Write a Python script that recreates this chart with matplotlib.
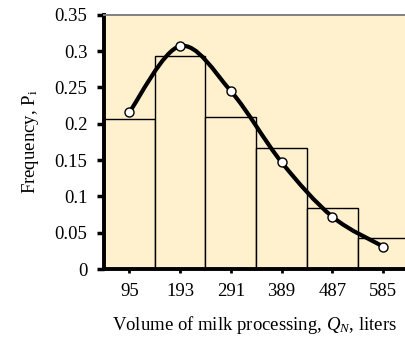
import numpy as np
import matplotlib
matplotlib.use("Agg")
import matplotlib.pyplot as plt
from matplotlib.path import Path
from matplotlib.patches import PathPatch

# bin centres (liters) and observed / theoretical frequencies
volumes = [95, 193, 291, 389, 487, 585]
freq_hist = [0.207, 0.293, 0.209, 0.167, 0.084, 0.043]
freq_theory = [0.216, 0.307, 0.245, 0.147, 0.072, 0.031]
y_ticks = [0, 0.05, 0.1, 0.15, 0.2, 0.25, 0.3, 0.35]
y_ticklabels = ["0", "0.05", "0.1", "0.15", "0.2", "0.25", "0.3", "0.35"]

BG = "#FFF0CE"

plt.rcParams.update({
    "font.family": ["Liberation Serif", "DejaVu Serif"],
    "mathtext.fontset": "custom",
    "mathtext.rm": "Liberation Serif",
    "mathtext.it": "Liberation Serif:italic",
    "font.size": 13.5,
})


def smooth_path(xs, ys, t=1 / 6):
    # Catmull-Rom style bezier through the points (like a spreadsheet "smoothed line")
    xs = np.asarray(xs, float)
    ys = np.asarray(ys, float)
    verts = [(xs[0], ys[0])]
    codes = [Path.MOVETO]
    n = len(xs)
    for i in range(n - 1):
        i0 = max(i - 1, 0)
        i3 = min(i + 2, n - 1)
        c1 = (xs[i] + (xs[i + 1] - xs[i0]) * t, ys[i] + (ys[i + 1] - ys[i0]) * t)
        c2 = (xs[i + 1] - (xs[i3] - xs[i]) * t, ys[i + 1] - (ys[i3] - ys[i]) * t)
        verts += [c1, c2, (xs[i + 1], ys[i + 1])]
        codes += [Path.CURVE4] * 3
    return Path(verts, codes)


fig = plt.figure(figsize=(4.06, 3.38), dpi=100)
ax = fig.add_axes([0.256, 0.204, 0.744, 0.752])
ax.set_facecolor(BG)

x = np.arange(1, len(volumes) + 1)
ax.bar(x, freq_hist, width=1.0, color=BG, edgecolor="black", lw=1.0, zorder=2)

curve = PathPatch(smooth_path(x, freq_theory), fill=False, lw=3.0,
                  edgecolor="black", capstyle="round", zorder=3)
ax.add_patch(curve)
ax.plot(x, freq_theory, ls="none", marker="o", ms=6.5, mfc="white",
        mec="black", mew=1.0, zorder=4)

ax.set_xlim(0.5, 6.45)
ax.set_ylim(0, 0.35)
ax.set_xticks(x)
ax.set_xticklabels([str(v) for v in volumes])
ax.set_yticks(y_ticks)
ax.set_yticklabels(y_ticklabels)

for s in ("left", "bottom"):
    ax.spines[s].set_linewidth(2.8)
ax.spines["top"].set_color("#808080")
ax.spines["top"].set_linewidth(1.4)
ax.spines["right"].set_visible(False)
ax.tick_params(axis="y", direction="out", length=5, width=2.5, pad=7)
ax.tick_params(axis="x", direction="out", length=3, width=2.0, pad=7)

ax.set_ylabel("Frequency, P$_\\mathrm{i}$", labelpad=10)
ax.set_xlabel("Volume of milk processing, $Q_N$, liters", labelpad=10)

fig.savefig("out.png", dpi=100, facecolor="white")
